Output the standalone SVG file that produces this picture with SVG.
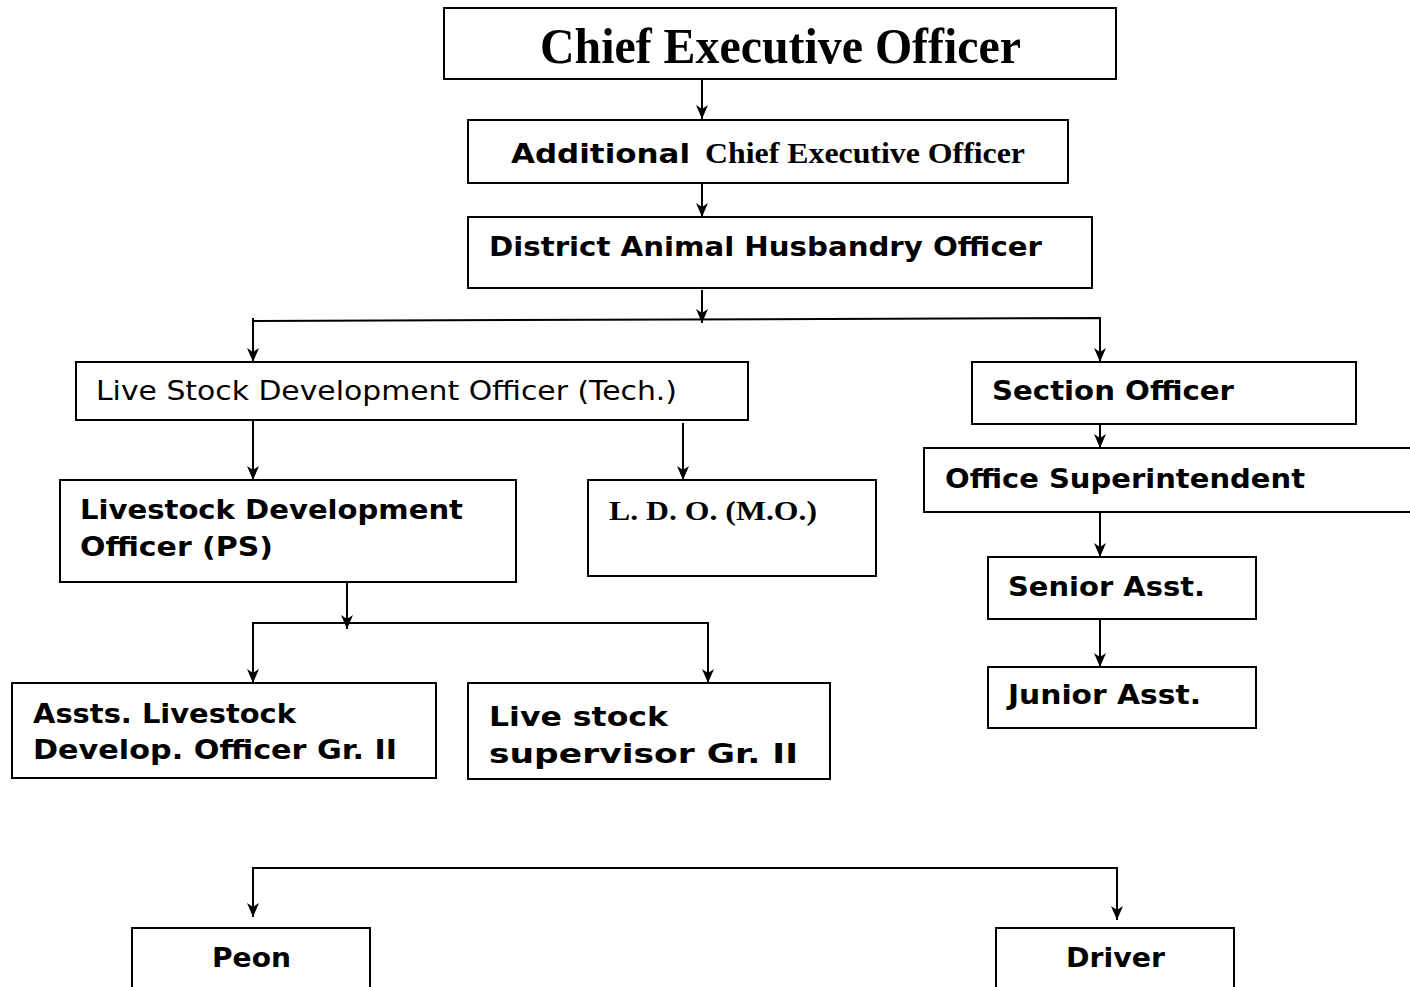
<svg xmlns="http://www.w3.org/2000/svg" width="1410" height="987" viewBox="0 0 1410 987">
<style>
.box{fill:#fff;stroke:#000;stroke-width:2}
.c{fill:none;stroke:#000;stroke-width:2}
.sb{font-family:"DejaVu Sans",Verdana,sans-serif;font-weight:bold;font-size:27px;fill:#000}
.sr{font-family:"DejaVu Sans",Verdana,sans-serif;font-size:26px;fill:#000}
.tb{font-family:"Liberation Serif","Times New Roman",serif;font-weight:bold;fill:#000}
</style>
<defs>
<marker id="ar" markerUnits="userSpaceOnUse" markerWidth="16" markerHeight="12" refX="14" refY="6" orient="auto">
<path d="M0,0 L14,6 L0,12 L4,6 z" fill="#000"/>
</marker>
</defs>
<rect width="1410" height="987" fill="#fff"/>
<g id="connectors">
<line class="c" x1="702" y1="80" x2="702" y2="119" marker-end="url(#ar)"/>
<line class="c" x1="702" y1="184" x2="702" y2="217" marker-end="url(#ar)"/>
<line class="c" x1="702" y1="290" x2="702" y2="323" marker-end="url(#ar)"/>
<polyline class="c" points="253,321 1100,318 1100,362" marker-end="url(#ar)"/>
<line class="c" x1="253" y1="318" x2="253" y2="362" marker-end="url(#ar)"/>
<line class="c" x1="1100" y1="424" x2="1100" y2="448" marker-end="url(#ar)"/>
<line class="c" x1="1100" y1="513" x2="1100" y2="557" marker-end="url(#ar)"/>
<line class="c" x1="1100" y1="616" x2="1100" y2="667" marker-end="url(#ar)"/>
<line class="c" x1="253" y1="421" x2="253" y2="480" marker-end="url(#ar)"/>
<line class="c" x1="683" y1="423" x2="683" y2="480" marker-end="url(#ar)"/>
<line class="c" x1="347" y1="557" x2="347" y2="629" marker-end="url(#ar)"/>
<polyline class="c" points="253,683 253,623 708,623 708,683" />
<line class="c" x1="253" y1="623" x2="253" y2="683" marker-end="url(#ar)"/>
<line class="c" x1="708" y1="623" x2="708" y2="683" marker-end="url(#ar)"/>
<polyline class="c" points="253,917 253,868 1117,868 1117,920"/>
<line class="c" x1="253" y1="868" x2="253" y2="917" marker-end="url(#ar)"/>
<line class="c" x1="1117" y1="868" x2="1117" y2="920" marker-end="url(#ar)"/>
</g>
<g id="ceo">
<rect class="box" x="444" y="8" width="672" height="71"/>
<text class="tb" x="540" y="63" font-size="50" textLength="481" lengthAdjust="spacingAndGlyphs">Chief Executive Officer</text>
</g>
<g id="aceo">
<rect class="box" x="468" y="120" width="600" height="63"/>
<text class="sb" x="511" y="163" font-size="28" textLength="179" lengthAdjust="spacingAndGlyphs">Additional</text>
<text class="tb" x="705" y="163" font-size="30" textLength="320" lengthAdjust="spacingAndGlyphs">Chief Executive Officer</text>
</g>
<g id="daho">
<rect class="box" x="468" y="217" width="624" height="71"/>
<text class="sb" x="489" y="256" textLength="553" lengthAdjust="spacingAndGlyphs">District Animal Husbandry Officer</text>
</g>
<g id="lsdo-tech">
<rect class="box" x="76" y="362" width="672" height="58"/>
<text class="sr" x="96" y="400" textLength="581" lengthAdjust="spacingAndGlyphs">Live Stock Development Officer (Tech.)</text>
</g>
<g id="section-officer">
<rect class="box" x="972" y="362" width="384" height="62"/>
<text class="sb" x="992" y="400" textLength="242" lengthAdjust="spacingAndGlyphs">Section Officer</text>
</g>
<g id="office-superintendent">
<path class="box" d="M1412,448 L924,448 L924,512 L1412,512"/>
<text class="sb" x="945" y="488" textLength="360" lengthAdjust="spacingAndGlyphs">Office Superintendent</text>
</g>
<g id="senior-asst">
<rect class="box" x="988" y="557" width="268" height="62"/>
<text class="sb" x="1008" y="596" textLength="197" lengthAdjust="spacingAndGlyphs">Senior Asst.</text>
</g>
<g id="junior-asst">
<rect class="box" x="988" y="667" width="268" height="61"/>
<text class="sb" x="1008" y="704" textLength="193" lengthAdjust="spacingAndGlyphs">Junior Asst.</text>
</g>
<g id="ldo-ps">
<rect class="box" x="60" y="480" width="456" height="102"/>
<text class="sb" x="80" y="519" textLength="383" lengthAdjust="spacingAndGlyphs">Livestock Development</text>
<text class="sb" x="80" y="556" textLength="193" lengthAdjust="spacingAndGlyphs">Officer (PS)</text>
</g>
<g id="ldo-mo">
<rect class="box" x="588" y="480" width="288" height="96"/>
<text class="tb" x="609" y="520" font-size="27" textLength="208" lengthAdjust="spacingAndGlyphs">L. D. O. (M.O.)</text>
</g>
<g id="asst-ldo">
<rect class="box" x="12" y="683" width="424" height="95"/>
<text class="sb" x="33" y="723" textLength="263" lengthAdjust="spacingAndGlyphs">Assts. Livestock</text>
<text class="sb" x="33" y="759" textLength="364" lengthAdjust="spacingAndGlyphs">Develop. Officer Gr. II</text>
</g>
<g id="ls-supervisor">
<rect class="box" x="468" y="683" width="362" height="96"/>
<text class="sb" x="489" y="726" font-size="30" textLength="179" lengthAdjust="spacingAndGlyphs">Live stock</text>
<text class="sb" x="489" y="763" font-size="30" textLength="309" lengthAdjust="spacingAndGlyphs">supervisor Gr.  II</text>
</g>
<g id="peon">
<path class="box" d="M132,990 L132,928 L370,928 L370,990"/>
<text class="sb" x="212" y="967" textLength="79" lengthAdjust="spacingAndGlyphs">Peon</text>
</g>
<g id="driver">
<path class="box" d="M996,990 L996,928 L1234,928 L1234,990"/>
<text class="sb" x="1066" y="967" textLength="99" lengthAdjust="spacingAndGlyphs">Driver</text>
</g>
</svg>
